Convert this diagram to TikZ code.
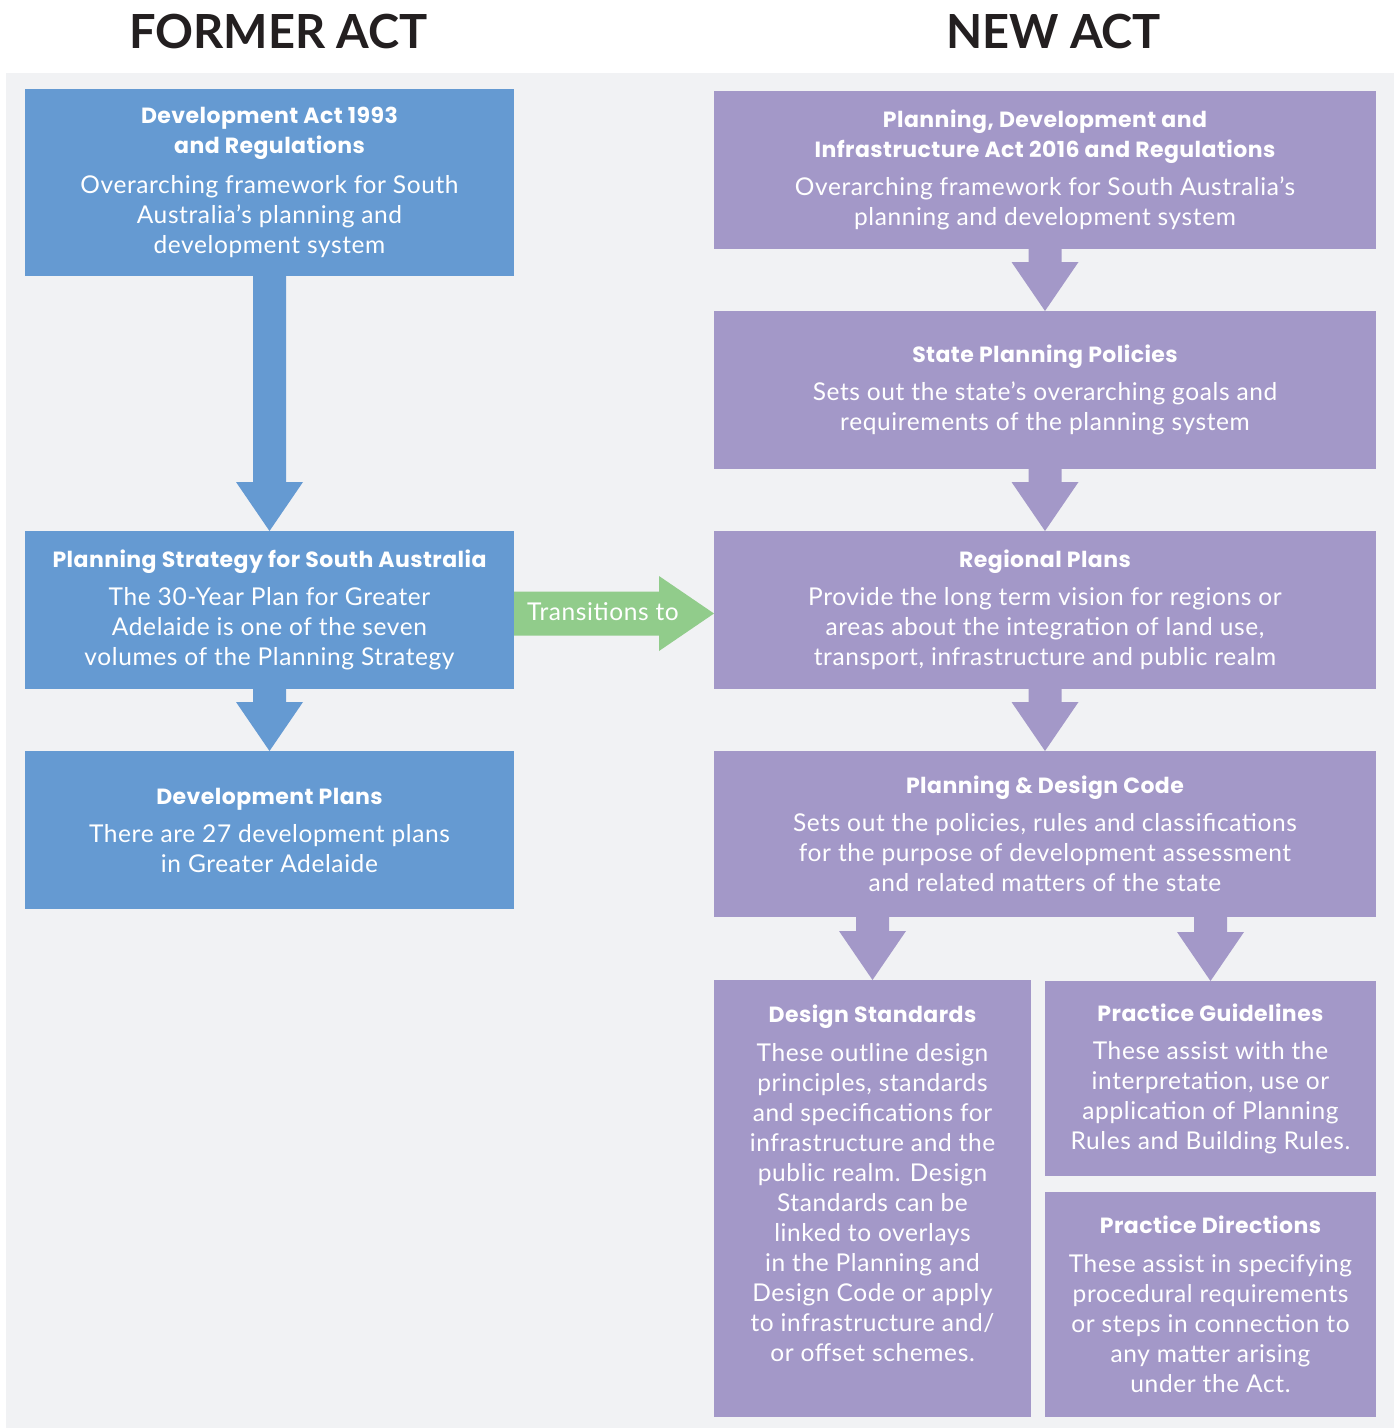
\documentclass[tikz,border=0pt]{standalone}
\usepackage{fontspec}
\setmainfont{Lato}
\newfontfamily\bodyfont{Lato}[LetterSpace=2.5]
\newfontfamily\hdfont{Poppins}[LetterSpace=2]
\usetikzlibrary{calc}
\definecolor{bluec}{RGB}{101,154,210}
\definecolor{purc}{RGB}{163,152,200}
\definecolor{greenc}{RGB}{145,204,139}
\definecolor{bgc}{RGB}{241,242,244}
\definecolor{titlec}{RGB}{35,31,32}
\newcommand{\hd}[1]{{\hdfont\fontsize{22}{30}\selectfont\bfseries #1}}
\newcommand{\blockarrow}[3]{%
  \fill[#1] let \p1=(#2), \p2=(#3) in
    (\x2-16.5pt,\y1) -- (\x2+16.5pt,\y1) -- (\x2+16.5pt,\y2+49pt) --
    (\x2+33.5pt,\y2+49pt) -- (\x2,\y2) -- (\x2-33.5pt,\y2+49pt) --
    (\x2-16.5pt,\y2+49pt) -- cycle;}
\begin{document}
\begin{tikzpicture}[x=1pt,y=-1pt,
  box/.style={inner sep=0pt, outer sep=0pt, align=center, text=white,
    font={\bodyfont\fontsize{24.5}{30}\selectfont}},
  bbox/.style={box, fill=bluec},
  pbox/.style={box, fill=purc},
  title/.style={text=titlec, font={\fontsize{47}{50}\selectfont\bfseries}}]
\useasboundingbox (0,0) rectangle (1400,1428);
\fill[white] (0,0) rectangle (1400,1428);
\fill[bgc] (6,73) rectangle (1394,1428);

\node[title] (tl) at (278.5,32) {FORMER ACT};
\node[title] (tr) at (1053.5,32) {NEW ACT};

% former act
\node[bbox, minimum width=489pt, minimum height=187pt] (b1) at (269.5,182.5)
 {\hd{Development Act 1993}\\\hd{and Regulations}\\[10pt]
  Overarching framework for South\\Australia’s planning and\\development system};
\node[bbox, minimum width=489pt, minimum height=158pt] (b2) at (269.5,610)
 {\hd{Planning Strategy for South Australia}\\[8pt]
  The 30-Year Plan for Greater\\Adelaide is one of the seven\\volumes of the Planning Strategy};
\node[bbox, minimum width=489pt, minimum height=158pt] (b3) at (269.5,830)
 {\hd{Development Plans}\\[8pt]
  There are 27 development plans\\in Greater Adelaide};

% new act
\node[pbox, minimum width=662pt, minimum height=158pt] (p1) at (1045,170)
 {\hd{Planning, Development and}\\\hd{Infrastructure Act 2016 and Regulations}\\[8pt]
  Overarching framework for South Australia’s\\planning and development system};
\node[pbox, minimum width=662pt, minimum height=158pt] (p2) at (1045,390)
 {\hd{State Planning Policies}\\[8pt]
  Sets out the state’s overarching goals and\\requirements of the planning system};
\node[pbox, minimum width=662pt, minimum height=158pt] (p3) at (1045,610)
 {\hd{Regional Plans}\\[8pt]
  Provide the long term vision for regions or\\areas about the integration of land use,\\transport, infrastructure and public realm};
\node[pbox, minimum width=662pt, minimum height=166pt] (p4) at (1045,834)
 {\hd{Planning \& Design Code}\\[8pt]
  Sets out the policies, rules and classifications\\for the purpose of development assessment\\and related matters of the state};
\node[pbox, minimum width=317pt, minimum height=437pt] (p5) at (872.5,1198.5) {};
\node[box] (p5t) at (872.5,1183.5)
 {\hd{Design Standards}\\[9pt]
  These outline design\\principles, standards\\and specifications for\\infrastructure and the\\public realm. Design\\Standards can be\\linked to overlays\\in the Planning and\\Design Code or apply\\to infrastructure and/\\or offset schemes.};
\node[pbox, minimum width=331pt, minimum height=195pt] (p6) at (1210.5,1078.5)
 {\hd{Practice Guidelines}\\[8pt]
  These assist with the\\interpretation, use or\\application of Planning\\Rules and Building Rules.};
\node[pbox, minimum width=331pt, minimum height=225pt] (p7) at (1210.5,1304.5)
 {\hd{Practice Directions}\\[9pt]
  These assist in specifying\\procedural requirements\\or steps in connection to\\any matter arising\\under the Act.};

% block arrows
\blockarrow{bluec}{b1.south}{b2.north}
\blockarrow{bluec}{b2.south}{b3.north}
\blockarrow{purc}{p1.south}{p2.north}
\blockarrow{purc}{p2.south}{p3.north}
\blockarrow{purc}{p3.south}{p4.north}
\blockarrow{purc}{p4.south}{p5.north}
\blockarrow{purc}{p4.south}{p6.north}

% transition arrow
\fill[greenc] let \p1=($(b2.east)+(0,3.5)$), \p2=($(p3.west)+(0,3.5)$) in
  (\x1,\y1+22pt) -- (\x2-55pt,\y1+22pt) -- (\x2-55pt,\y1+37.5pt) -- (\x2,\y2)
  -- (\x2-55pt,\y1-37.5pt) -- (\x2-55pt,\y1-22pt) -- (\x1,\y1-22pt) -- cycle;
\node[box] (trans) at (603,612) {Transitions to};
\end{tikzpicture}
\end{document}
